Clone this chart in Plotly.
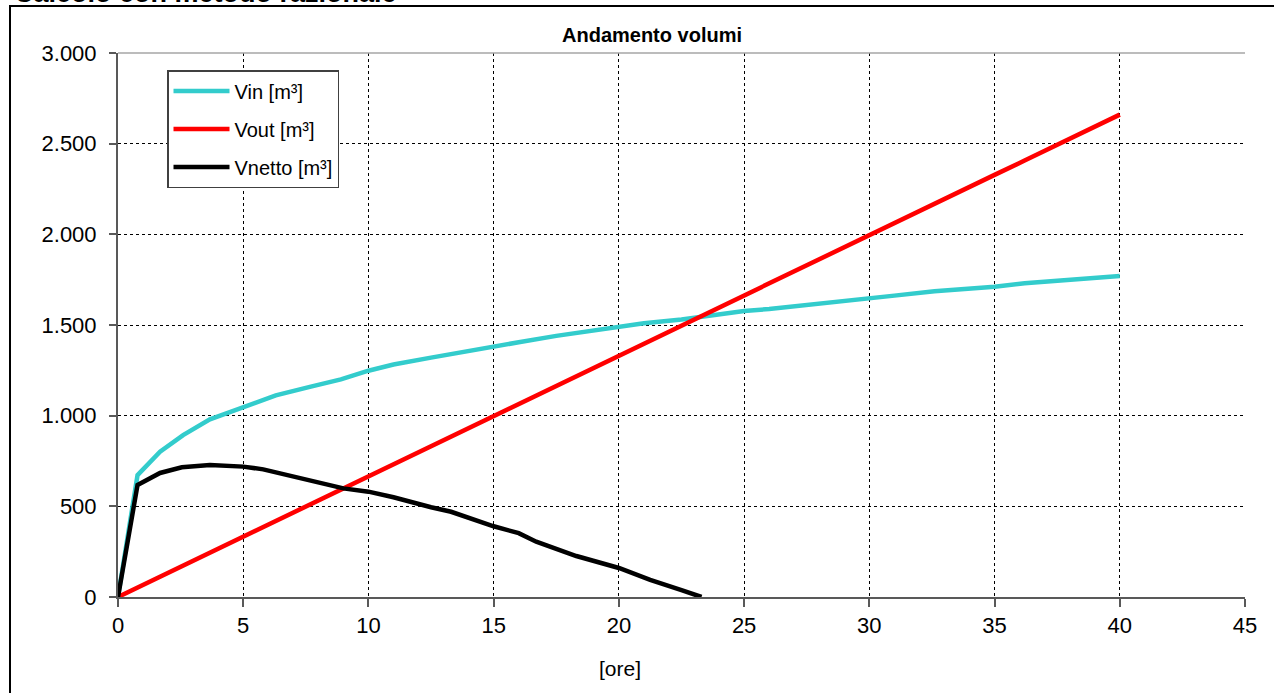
import plotly.graph_objects as go

# ---- data ----
t_in = [0, 0.78, 1.68, 2.6, 3.67, 5, 6.3, 7.7, 8.9, 10, 11, 12.5, 13.3, 15, 16, 17.5,
        18.3, 20, 21, 22.5, 23.3, 25, 26, 28.2, 30, 31, 32.6, 33.5, 35, 36.2, 38.1, 40]
v_in = [0, 672, 801, 893, 980, 1048, 1112, 1160, 1200, 1248, 1282, 1320, 1340, 1385, 1405, 1440,
        1455, 1485, 1510, 1530, 1545, 1577, 1588, 1623, 1647, 1662, 1686, 1695, 1711, 1730, 1748, 1770]
v_out = [0, 52, 112, 173, 244, 333, 419, 512, 592, 665, 732, 831, 884, 998, 1064, 1164,
         1217, 1330, 1397, 1496, 1549, 1663, 1729, 1875, 1995, 2062, 2168, 2228, 2328, 2407, 2534, 2660]

t_net = [0, 0.78, 1.68, 2.55, 3.67, 5, 5.8, 7.7, 9, 10, 11, 12.5, 13.3, 15, 16, 16.7,
         18.3, 20, 21.25, 22.5, 23.3]
v_net = [0, 618, 684, 715, 728, 719, 704, 645, 599, 581, 550, 495, 470, 390, 352, 305,
         226, 160, 94, 38, 0]

series_names = ["Vin [m³]", "Vout [m³]", "Vnetto [m³]"]
series_colors = ["#33CCCC", "#FF0000", "#000000"]

x_ticks = [0, 5, 10, 15, 20, 25, 30, 35, 40, 45]
y_ticks = [0, 500, 1000, 1500, 2000, 2500, 3000]
y_tick_labels = ["0", "500", "1.000", "1.500", "2.000", "2.500", "3.000"]

chart_title = "Andamento volumi"
page_title = "Calcolo con metodo razionale"
x_title = "[ore]"

# ---- figure ----
fig = go.Figure()
for name, xs, ys, col in zip(series_names, [t_in, t_in, t_net], [v_in, v_out, v_net], series_colors):
    fig.add_trace(go.Scatter(x=xs, y=ys, mode="lines", name=name, legendgroup=name,
                             line=dict(color=col, width=4.5)))

W, H = 1274, 693
L, R, T, B = 118, 29, 53, 96
pw, ph = W - L - R, H - T - B

def px(xp):
    return (xp - L) / pw

def py(yp):
    return (H - B - yp) / ph

axis_common = dict(
    showline=True, linecolor="#595959", linewidth=2,
    ticks="outside", tickcolor="#595959", tickwidth=1.5,
    showgrid=True, gridcolor="#000000", gridwidth=1, griddash="dot",
    zeroline=False, tickfont=dict(size=22, color="#000000"),
)

fig.update_layout(
    width=W, height=H,
    margin=dict(l=L, r=R, t=T, b=B, pad=0),
    paper_bgcolor="white", plot_bgcolor="white",
    font=dict(family="Liberation Sans, Arial, sans-serif", color="#000000"),
    xaxis=dict(range=[0, 45], tickmode="array", tickvals=x_ticks, ticklen=8, **axis_common),
    yaxis=dict(range=[0, 3000], tickmode="array", tickvals=y_ticks, ticktext=y_tick_labels,
               ticklen=7, ticklabelstandoff=8, **axis_common),
    showlegend=True,
    legend=dict(x=px(167), y=py(70), xanchor="left", yanchor="top",
                bgcolor="white", bordercolor="#404040", borderwidth=1.5,
                font=dict(size=20, color="#000000"), tracegroupgap=9,
                traceorder="grouped", itemwidth=56),
    annotations=[
        dict(text="<b>" + chart_title + "</b>", xref="paper", yref="paper",
             x=px(652), y=py(35), xanchor="center", yanchor="middle",
             showarrow=False, font=dict(size=20, color="#000000")),
        dict(text=x_title, xref="paper", yref="paper",
             x=px(620), y=py(668), xanchor="center", yanchor="middle",
             showarrow=False, font=dict(size=21, color="#000000")),
        dict(text="<b>" + page_title + "</b>", xref="paper", yref="paper",
             x=px(12), y=py(10), xanchor="left", yanchor="bottom",
             showarrow=False, font=dict(size=27, color="#000000")),
    ],
    shapes=[
        dict(type="rect", xref="paper", yref="paper",
             x0=px(10), x1=px(1290), y0=py(710), y1=py(6),
             line=dict(color="#000000", width=2), fillcolor="rgba(0,0,0,0)", layer="below"),
        dict(type="line", xref="paper", yref="paper", x0=0, x1=1, y0=1, y1=1,
             line=dict(color="#A6A6A6", width=1.5)),
    ],
)

fig.write_html("out.html", config={"displayModeBar": False},
               post_script="document.body.style.margin='0px';")
